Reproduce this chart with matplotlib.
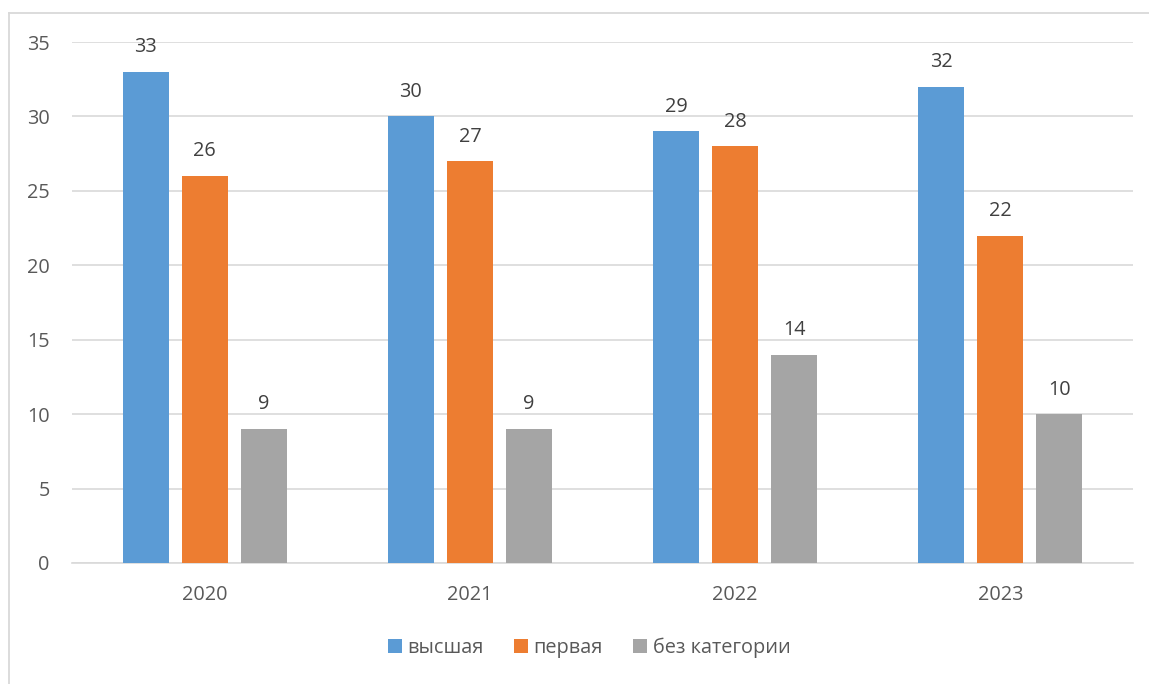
import matplotlib
matplotlib.use("Agg")
import matplotlib.pyplot as plt
import numpy as np

years = ["2020", "2021", "2022", "2023"]
series_names = ["высшая", "первая", "без категории"]
vysshaya = [33, 30, 29, 32]
pervaya = [26, 27, 28, 22]
bez_kat = [9, 9, 14, 10]
yticks = [0, 5, 10, 15, 20, 25, 30, 35]

colors = ["#5B9BD5", "#ED7D31", "#A5A5A5"]
text_color = "#595959"
grid_color = "#D9D9D9"

plt.rcParams['font.family'] = ['Open Sans', 'DejaVu Sans']
fs = 14.3

fig = plt.figure(figsize=(11.49, 6.84), dpi=100)
ax = fig.add_axes([72/1149, 1-563/684, (1133-72)/1149, (563-42)/684])

# chart border (left and top)
fig.add_artist(plt.Line2D([8.5/1149, 8.5/1149], [0, 1-13/684], color=grid_color, lw=1.3, transform=fig.transFigure))
fig.add_artist(plt.Line2D([8.5/1149, 1], [1-13/684, 1-13/684], color=grid_color, lw=1.3, transform=fig.transFigure))

x = np.arange(len(years))
width = 46/265
step = 59/265
data = [vysshaya, pervaya, bez_kat]
for i, (vals, name, c) in enumerate(zip(data, series_names, colors)):
    pos = x + (i - 1) * step
    bars = ax.bar(pos, vals, width=width, color=c, label=name, zorder=3)
    for b, v in zip(bars, vals):
        ax.annotate(str(v), (b.get_x() + b.get_width()/2, v), xytext=(0, 10.5),
                    textcoords="offset points", ha="center", va="bottom",
                    fontsize=fs, color="#404040")

ax.set_xlim(-0.5, len(years) - 0.5)
ax.set_ylim(0, 35)
ax.set_yticks(yticks)
ax.set_xticks(x)
ax.set_xticklabels(years)
ax.tick_params(axis='both', length=0, labelsize=fs, labelcolor=text_color)
ax.tick_params(axis='y', pad=16)
ax.tick_params(axis='x', pad=16)
ax.grid(axis='y', color=grid_color, lw=1.2, zorder=0)
for s in ["top", "right", "left"]:
    ax.spines[s].set_visible(False)
ax.spines["bottom"].set_color(grid_color)
ax.spines["bottom"].set_linewidth(1.2)

leg = fig.legend(loc="center", bbox_to_anchor=(589/1149, 1-648/684), ncol=3, frameon=False,
                 fontsize=fs, handlelength=0.7, handleheight=0.7, handletextpad=0.3,
                 columnspacing=1.5, labelcolor=text_color)

fig.savefig("out.png", dpi=100)
